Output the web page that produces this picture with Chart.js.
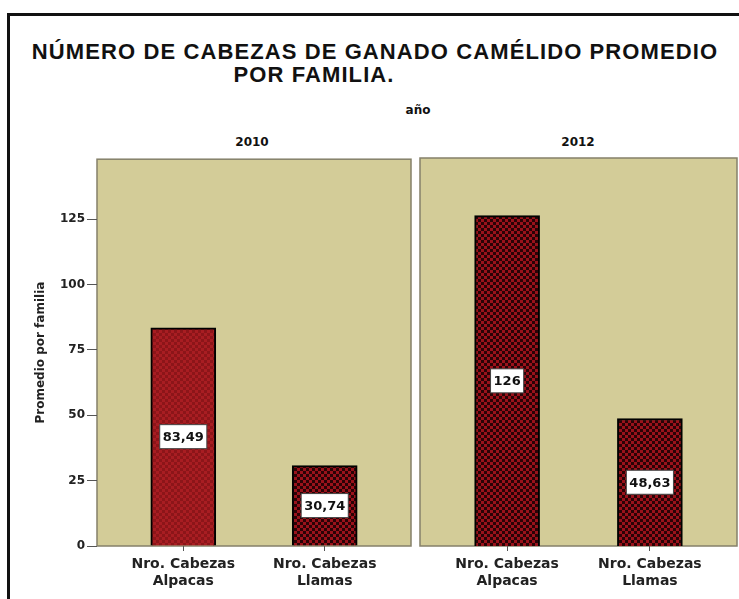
<!DOCTYPE html>
<html>
<head>
<meta charset="utf-8">
<script src="https://cdn.jsdelivr.net/npm/chart.js@4/dist/chart.umd.min.js"></script>
<style>
  body { margin: 0; background: #fff; width: 739px; height: 599px; overflow: hidden; position: relative; font-family: "Liberation Sans", Arial, sans-serif; }
  #frame { position: absolute; left: 7px; top: 13px; width: 740px; height: 600px; border-left: 3px solid #111; border-top: 3px solid #111; }
  .txt { position: absolute; font-weight: bold; color: #111; white-space: nowrap; transform: translateX(-50%); }
  .title { font-size: 22px; line-height: 22px; letter-spacing: 1.1px; }
  #anio { left: 418px; top: 103px; font-size: 12px; font-family: "DejaVu Sans", sans-serif; }
  .year { top: 135px; font-size: 12px; font-family: "DejaVu Sans", sans-serif; }
  canvas { position: absolute; }
</style>
</head>
<body>
<div id="frame"></div>
<div class="txt title" style="left:375px;top:41px">NÚMERO DE CABEZAS DE GANADO CAMÉLIDO PROMEDIO</div>
<div class="txt title" style="left:314px;top:64px">POR FAMILIA.</div>
<div class="txt" id="anio">año</div>
<div class="txt year" style="left:252px">2010</div>
<div class="txt year" style="left:578px">2012</div>
<div style="position:absolute;left:0;top:150px;width:415px;height:449px"><canvas id="c2010"></canvas></div>
<div style="position:absolute;left:415px;top:150px;width:324px;height:449px"><canvas id="c2012"></canvas></div>
<script>
// data
const categories = [['Nro. Cabezas', 'Alpacas'], ['Nro. Cabezas', 'Llamas']];
const years = ['2010', '2012'];
const values2010 = [83.49, 30.74];
const values2012 = [126, 48.63];
const yTicks = [0, 25, 50, 75, 100, 125];

const panelBg = '#d3cc98';
const fontFam = '"DejaVu Sans", sans-serif';

function checker(a, b) {
    const c = document.createElement('canvas');
    c.width = c.height = 6;
    const g = c.getContext('2d');
    g.fillStyle = a; g.fillRect(0, 0, 6, 6);
    g.fillStyle = b;
    g.fillRect(0, 0, 3, 3);
    g.fillRect(3, 3, 3, 3);
    return g.createPattern(c, 'repeat');
}
const darkFill = checker('#9a121b', '#2a0306');
const lightFill = checker('#a81d22', '#8c1519');

const panelPlugin = {
    id: 'panel',
    beforeDraw(chart) {
        const a = chart.chartArea, g = chart.ctx;
        g.save();
        g.fillStyle = panelBg;
        g.fillRect(a.left, a.top, a.right - a.left, a.bottom - a.top);
        g.strokeStyle = '#85806a';
        g.lineWidth = 1.5;
        g.strokeRect(a.left, a.top, a.right - a.left, a.bottom - a.top);
        g.restore();
    }
};

const valueLabels = {
    id: 'valueLabels',
    afterDatasetsDraw(chart) {
        const g = chart.ctx;
        const ds = chart.data.datasets[0];
        chart.getDatasetMeta(0).data.forEach((bar, i) => {
            const txt = String(ds.data[i].y).replace('.', ',');
            g.save();
            g.font = 'bold 13px ' + fontFam;
            const w = g.measureText(txt).width + 6;
            const h = 24;
            const cy = (bar.y + bar.base) / 2;
            g.fillStyle = '#fff';
            g.fillRect(bar.x - w / 2, cy - h / 2, w, h);
            g.strokeStyle = '#444';
            g.lineWidth = 1;
            g.strokeRect(bar.x - w / 2, cy - h / 2, w, h);
            g.fillStyle = '#111';
            g.textAlign = 'center';
            g.textBaseline = 'middle';
            g.fillText(txt, bar.x, cy + 1);
            g.restore();
        });
    }
};

function makeChart(id, values, fills, showY, pad) {
    return new Chart(document.getElementById(id), {
        type: 'bar',
        data: {
            datasets: [{
                data: values.map((v, i) => ({ x: i, y: v })),
                backgroundColor: fills,
                borderColor: '#000',
                borderWidth: 2,
                barThickness: 65
            }]
        },
        options: {
            responsive: true,
            maintainAspectRatio: false,
            animation: false,
            layout: { padding: pad },
            plugins: { legend: { display: false }, tooltip: { enabled: false } },
            scales: {
                x: {
                    type: 'linear',
                    min: -0.61,
                    max: 1.61,
                    offset: false,
                    afterBuildTicks(s) { s.ticks = categories.map((c, i) => ({ value: i })); },
                    grid: { drawOnChartArea: false, offset: false, tickLength: 5, color: '#555' },
                    border: { display: false },
                    ticks: {
                        color: '#222',
                        font: { family: fontFam, size: 14, weight: 'bold' },
                        padding: 5,
                        maxRotation: 0,
                        autoSkip: false,
                        callback: v => categories[v]
                    },
                    afterFit(s) { s.height = 53; }
                },
                y: {
                    display: showY,
                    min: 0,
                    max: 148,
                    afterBuildTicks(s) { s.ticks = yTicks.map(v => ({ value: v })); },
                    grid: { drawOnChartArea: false, tickLength: 10, color: '#555' },
                    border: { display: false },
                    ticks: { color: '#222', font: { family: fontFam, size: 12, weight: 'bold' }, padding: 2 },
                    title: {
                        display: true,
                        text: 'Promedio por familia',
                        color: '#222',
                        font: { family: fontFam, size: 12, weight: 'bold' },
                        padding: { top: 34, bottom: 0 }
                    },
                    afterFit(s) { s.width = showY ? 97 : 0; }
                }
            }
        },
        plugins: [panelPlugin, valueLabels]
    });
}

makeChart('c2010', values2010, [lightFill, darkFill], true, { top: 8, right: 4, left: 0, bottom: 0 });
makeChart('c2012', values2012, [darkFill, darkFill], false, { top: 8, right: 2, left: 5, bottom: 0 });
</script>
</body>
</html>
